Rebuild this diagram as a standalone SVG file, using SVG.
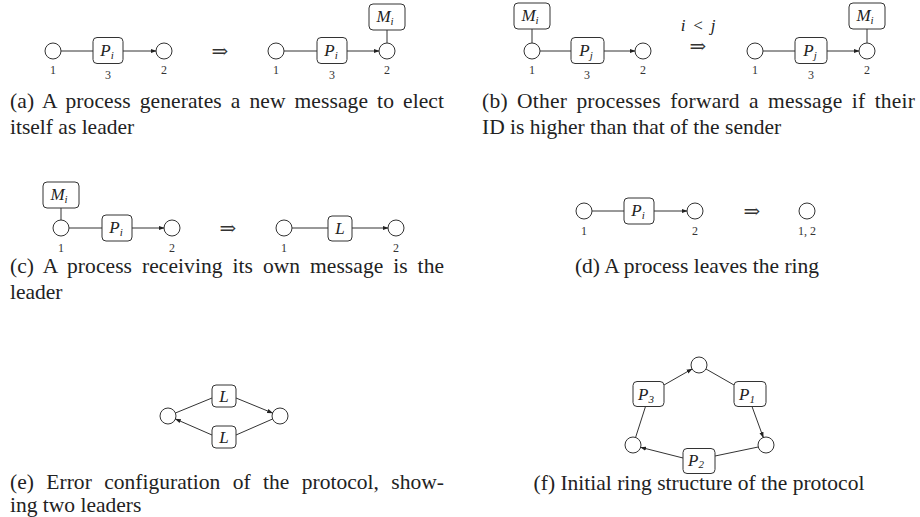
<svg xmlns="http://www.w3.org/2000/svg" width="920" height="517" viewBox="0 0 920 517">
<defs>
<marker id="ah" viewBox="0 0 10 10" refX="9" refY="5" markerWidth="6" markerHeight="6" markerUnits="userSpaceOnUse" orient="auto">
<path d="M0,1.5 L10,5 L0,8.5 z" fill="#222"/>
</marker>
<style>
.n{fill:#fff;stroke:#333;stroke-width:1}
.b{fill:#fff;stroke:#333;stroke-width:1}
.e{fill:none;stroke:#333;stroke-width:1}
.a{fill:none;stroke:#333;stroke-width:1;marker-end:url(#ah)}
.m{font-family:"Liberation Serif",serif;font-style:italic;font-size:17px;fill:#222;text-anchor:middle}
.s{font-size:11px}
.l{font-family:"Liberation Serif",serif;font-size:12px;fill:#333;text-anchor:middle}
.r{font-family:"DejaVu Serif",serif;font-size:20px;fill:#333;text-anchor:middle}
.c{font-family:"Liberation Serif",serif;font-size:21.5px;fill:#222}
.cc{font-family:"Liberation Serif",serif;font-size:21.5px;fill:#222;text-anchor:middle}
</style>
</defs>

<!-- Panel (a) -->
<g id="a_n1"><circle class="n" cx="53" cy="51" r="8"/><text class="l" x="53" y="74">1</text></g>
<g id="a_p"><rect class="b" x="93" y="37.5" width="30" height="26" rx="4"/><text class="m" x="107" y="55.5">P<tspan class="s" dy="3">i</tspan></text><text class="l" x="108" y="79">3</text></g>
<g id="a_n2"><circle class="n" cx="164" cy="51" r="8"/><text class="l" x="164" y="74">2</text></g>
<text class="r" x="220" y="57.5">⇒</text>
<g id="a_n1b"><circle class="n" cx="276" cy="51" r="8"/><text class="l" x="276" y="74">1</text></g>
<g id="a_pb"><rect class="b" x="317" y="37.5" width="30" height="26" rx="4"/><text class="m" x="331" y="55.5">P<tspan class="s" dy="3">i</tspan></text><text class="l" x="332" y="79">3</text></g>
<g id="a_n2b"><circle class="n" cx="387" cy="51" r="8"/><text class="l" x="387" y="74">2</text></g>
<g id="a_m"><rect class="b" x="369" y="4" width="36" height="26" rx="4"/><text class="m" x="385" y="22">M<tspan class="s" dy="3">i</tspan></text></g>

<!-- Panel (b) -->
<g id="b_m"><rect class="b" x="514" y="3" width="36" height="26" rx="4"/><text class="m" x="530" y="21">M<tspan class="s" dy="3">i</tspan></text></g>
<g id="b_n1"><circle class="n" cx="532" cy="51" r="8"/><text class="l" x="532" y="74">1</text></g>
<g id="b_p"><rect class="b" x="571" y="37.5" width="33" height="26" rx="4"/><text class="m" x="586" y="55.5">P<tspan class="s" dy="3">j</tspan></text><text class="l" x="587" y="79">3</text></g>
<g id="b_n2"><circle class="n" cx="643" cy="51" r="8"/><text class="l" x="643" y="74">2</text></g>
<text class="m" x="683" y="31">i</text><text x="698" y="31" style="font-family:'Liberation Serif',serif;font-size:17px;fill:#222;text-anchor:middle">&lt;</text><text class="m" x="713" y="31">j</text>
<text class="r" x="698" y="53">⇒</text>
<g id="b_n1b"><circle class="n" cx="755" cy="51" r="8"/><text class="l" x="755" y="74">1</text></g>
<g id="b_pb"><rect class="b" x="795" y="37.5" width="32" height="26" rx="4"/><text class="m" x="810" y="55.5">P<tspan class="s" dy="3">j</tspan></text><text class="l" x="811" y="79">3</text></g>
<g id="b_n2b"><circle class="n" cx="867" cy="51" r="8"/><text class="l" x="867" y="74">2</text></g>
<g id="b_mb"><rect class="b" x="849" y="3" width="36" height="26" rx="4"/><text class="m" x="865" y="21">M<tspan class="s" dy="3">i</tspan></text></g>

<!-- Panel (c) -->
<g id="c_m"><rect class="b" x="43" y="182" width="36" height="26" rx="4"/><text class="m" x="59" y="200">M<tspan class="s" dy="3">i</tspan></text></g>
<g id="c_n1"><circle class="n" cx="61" cy="228" r="8"/><text class="l" x="61" y="252">1</text></g>
<g id="c_p"><rect class="b" x="102" y="215" width="30" height="26" rx="4"/><text class="m" x="116" y="233">P<tspan class="s" dy="3">i</tspan></text></g>
<g id="c_n2"><circle class="n" cx="172" cy="228" r="8"/><text class="l" x="172" y="252">2</text></g>
<text class="r" x="228" y="235">⇒</text>
<g id="c_n1b"><circle class="n" cx="284" cy="228" r="8"/><text class="l" x="284" y="252">1</text></g>
<g id="c_l"><rect class="b" x="328" y="216" width="24" height="25" rx="4"/><text class="m" x="340" y="234">L</text></g>
<g id="c_n2b"><circle class="n" cx="396" cy="228" r="8"/><text class="l" x="396" y="252">2</text></g>

<!-- Panel (d) -->
<g id="d_n1"><circle class="n" cx="584" cy="211" r="8"/><text class="l" x="584" y="235">1</text></g>
<g id="d_p"><rect class="b" x="624" y="198" width="30" height="26" rx="4"/><text class="m" x="638" y="216">P<tspan class="s" dy="3">i</tspan></text></g>
<g id="d_n2"><circle class="n" cx="695" cy="211" r="8"/><text class="l" x="695" y="235">2</text></g>
<text class="r" x="752" y="217.5">⇒</text>
<g id="d_n12"><circle class="n" cx="807" cy="211" r="8"/><text class="l" x="807" y="235">1, 2</text></g>

<!-- Panel (e) -->
<g id="e_nl"><circle class="n" cx="168" cy="416" r="8"/></g>
<g id="e_nr"><circle class="n" cx="280" cy="416" r="8"/></g>
<g id="e_lt"><rect class="b" x="212" y="385" width="24" height="22" rx="4"/><text class="m" x="224" y="402">L</text></g>
<g id="e_lb"><rect class="b" x="212" y="426" width="24" height="22" rx="4"/><text class="m" x="224" y="443">L</text></g>

<!-- Panel (f) -->
<g id="f_nt"><circle class="n" cx="699" cy="365" r="8"/></g>
<g id="f_nl"><circle class="n" cx="633" cy="445" r="8"/></g>
<g id="f_nr"><circle class="n" cx="766" cy="445" r="8"/></g>
<g id="f_p3"><rect class="b" x="633" y="381.5" width="31" height="25" rx="4"/><text class="m" x="646" y="399.5">P<tspan class="s" dy="3">3</tspan></text></g>
<g id="f_p1"><rect class="b" x="734" y="381.5" width="32" height="25" rx="4"/><text class="m" x="747" y="399.5">P<tspan class="s" dy="3">1</tspan></text></g>
<g id="f_p2"><rect class="b" x="683" y="448.5" width="32" height="25" rx="4"/><text class="m" x="696" y="465.5">P<tspan class="s" dy="2.5">2</tspan></text></g>

<g id="connectors">
<line class="e" x1="61" y1="51" x2="93" y2="51"/>
<line class="a" x1="123" y1="51" x2="156" y2="51"/>
<line class="e" x1="284" y1="51" x2="317" y2="51"/>
<line class="a" x1="347" y1="51" x2="379" y2="51"/>
<line class="e" x1="387" y1="30" x2="387" y2="43"/>
<line class="e" x1="532" y1="29" x2="532" y2="43"/>
<line class="e" x1="540" y1="51" x2="571" y2="51"/>
<line class="a" x1="604" y1="51" x2="635" y2="51"/>
<line class="e" x1="763" y1="51" x2="795" y2="51"/>
<line class="a" x1="827" y1="51" x2="859" y2="51"/>
<line class="e" x1="867" y1="29" x2="867" y2="43"/>
<line class="e" x1="61" y1="208" x2="61" y2="220"/>
<line class="e" x1="69" y1="228" x2="102" y2="228"/>
<line class="a" x1="132" y1="228" x2="164" y2="228"/>
<line class="e" x1="292" y1="228" x2="328" y2="228"/>
<line class="a" x1="352" y1="228" x2="388" y2="228"/>
<line class="e" x1="592" y1="211" x2="624" y2="211"/>
<line class="a" x1="654" y1="211" x2="687" y2="211"/>
<line class="e" x1="175.4" y1="413" x2="212" y2="398"/>
<line class="a" x1="236" y1="398" x2="272.6" y2="413"/>
<line class="e" x1="272.6" y1="419" x2="236" y2="435"/>
<line class="a" x1="212" y1="435" x2="175.4" y2="419"/>
<line class="e" x1="706" y1="369" x2="734" y2="385"/>
<line class="a" x1="752" y1="406.5" x2="763.3" y2="437.5"/>
<line class="e" x1="758.2" y1="447" x2="715" y2="456"/>
<line class="a" x1="683" y1="458" x2="640.7" y2="447.3"/>
<line class="e" x1="635.6" y1="437.4" x2="645.5" y2="406.5"/>
<line class="a" x1="664" y1="385" x2="692" y2="369"/>
</g>

<!-- Captions -->
<text class="c" x="10" y="108" word-spacing="3.5" textLength="434" lengthAdjust="spacing">(a) A process generates a new message to elect</text>
<text class="c" x="10" y="134">itself as leader</text>
<text class="c" x="482" y="108" word-spacing="3.6" textLength="433" lengthAdjust="spacing">(b) Other processes forward a message if their</text>
<text class="c" x="482" y="134">ID is higher than that of the sender</text>
<text class="c" x="10" y="273" word-spacing="4.4" textLength="434" lengthAdjust="spacing">(c) A process receiving its own message is the</text>
<text class="c" x="10" y="299">leader</text>
<text class="cc" x="697" y="273">(d) A process leaves the ring</text>
<text class="c" x="10" y="489" word-spacing="7" textLength="434" lengthAdjust="spacing">(e) Error configuration of the protocol, show-</text>
<text class="c" x="10" y="512">ing two leaders</text>
<text class="cc" x="699" y="490">(f) Initial ring structure of the protocol</text>
</svg>
